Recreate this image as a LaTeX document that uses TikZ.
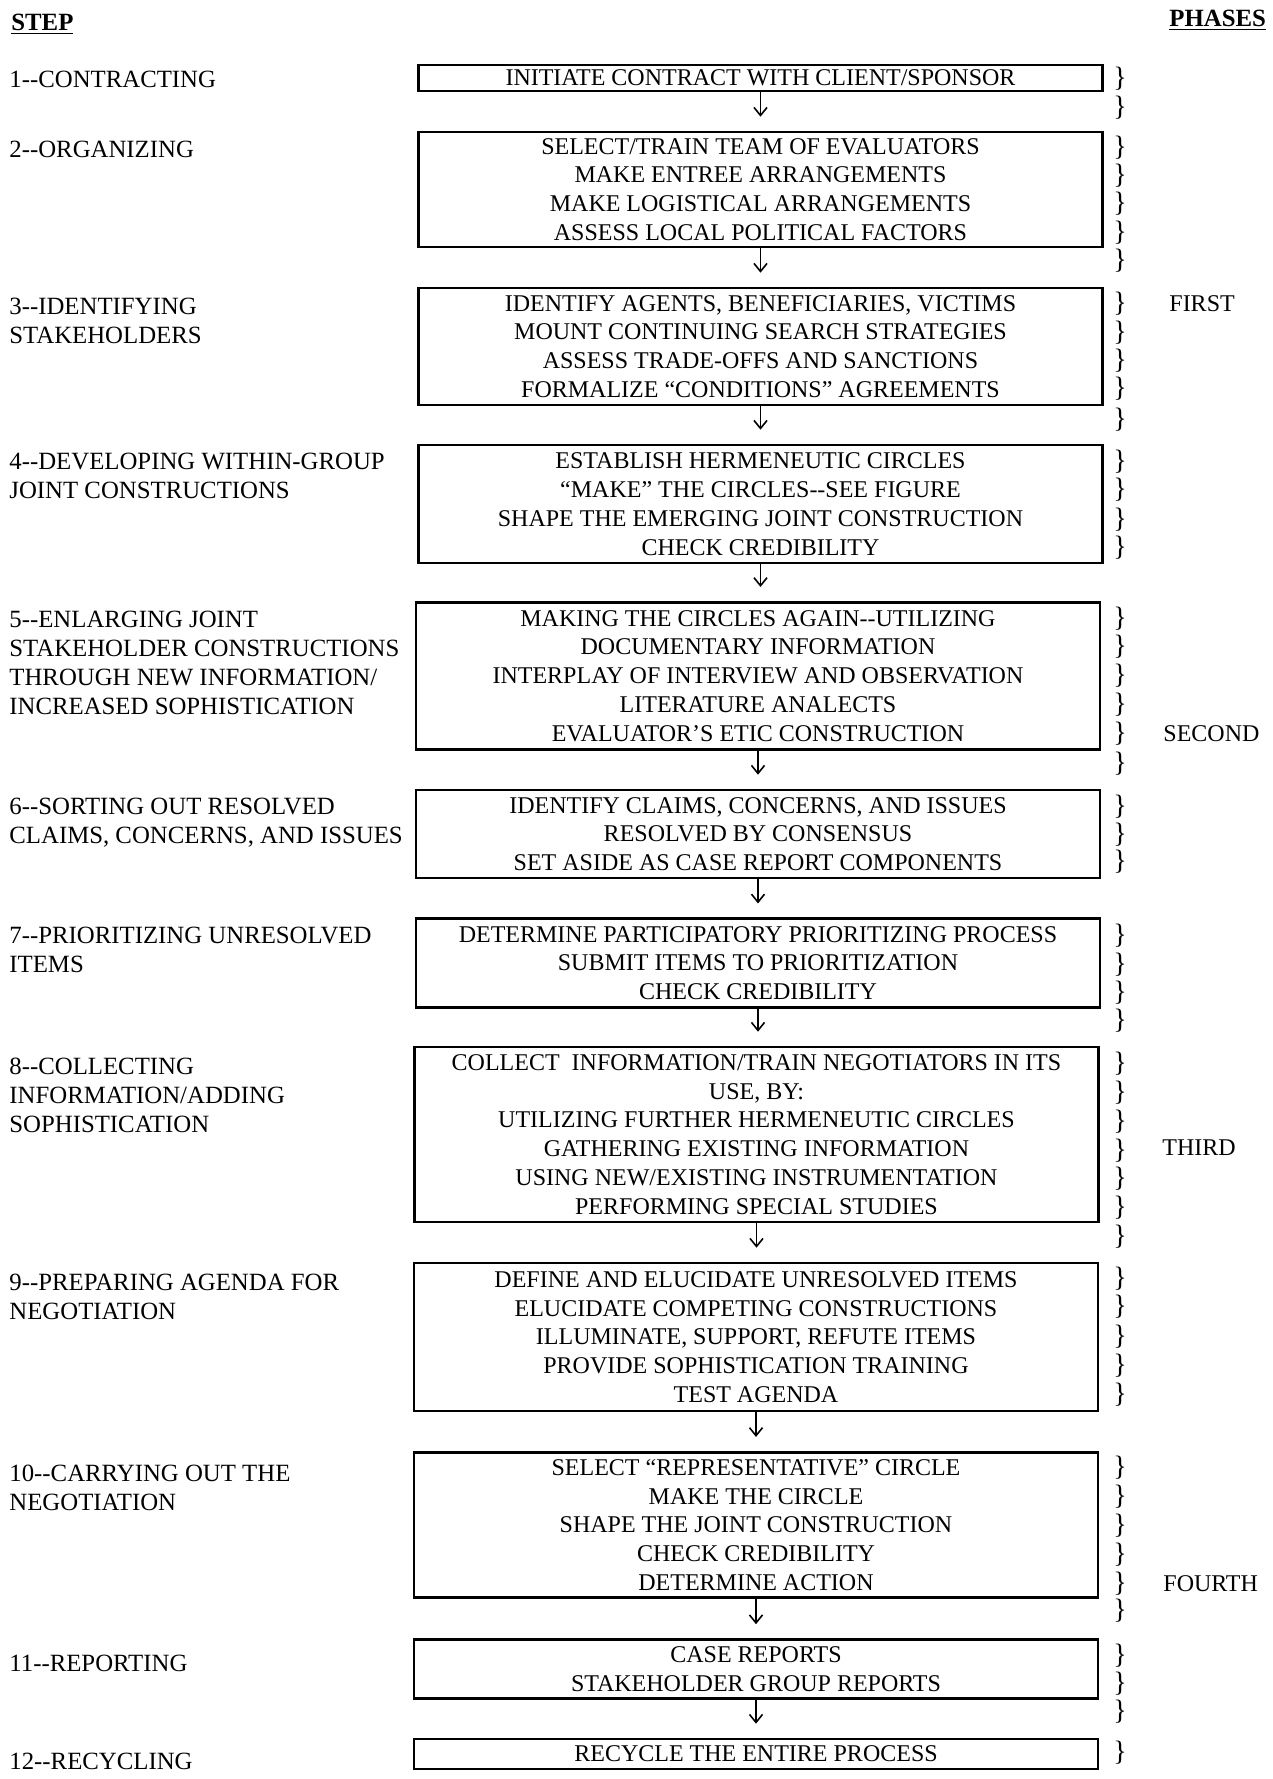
\documentclass[tikz,border=0pt]{standalone}
\usepackage{fontspec}
\setmainfont{Liberation Serif}
\usepackage{graphicx}
\usetikzlibrary{arrows.meta}

\begin{document}
\begin{tikzpicture}[x=0.5pt,y=-0.5pt,
  stepbox/.style={draw, line width=1.3pt, inner sep=0pt, align=center,
    minimum width=342pt, font=\fontsize{12}{14.4}\selectfont},
  flow/.style={line width=0.8pt,
    -{Straight Barb[length=4pt,width=6.5pt,line width=0.8pt]}, shorten >=7pt},
  steplabel/.style={anchor=north west, align=left, inner sep=0pt,
    font=\fontsize{12.4}{14.4}\selectfont},
  brace/.style={inner sep=0pt, font=\fontsize{14}{14}\selectfont},
  phase/.style={anchor=west, inner sep=0pt, font=\fontsize{12}{14}\selectfont},
  header/.style={anchor=west, inner sep=0pt, font=\bfseries\fontsize{12.4}{14}\selectfont}
]
\fill[white] (0,0) rectangle (1273,1779);
\useasboundingbox (0,0) rectangle (1273,1779);

% column headers
\node[header] (hstep) at (11,24) {\underline{STEP}};
\node[header] (hphase) at (1169,20) {\underline{PHASES}};

% process boxes
\node[stepbox, minimum height=13pt] (b1) at (760.5,78)
  {INITIATE CONTRACT WITH CLIENT/SPONSOR};
\node[stepbox, minimum height=57.5pt] (b2) at (760.5,189.5)
  {SELECT/TRAIN TEAM OF EVALUATORS\\MAKE ENTREE ARRANGEMENTS\\MAKE LOGISTICAL ARRANGEMENTS\\ASSESS LOCAL POLITICAL FACTORS};
\node[stepbox, minimum height=58.5pt] (b3) at (760.5,346.5)
  {IDENTIFY AGENTS, BENEFICIARIES, VICTIMS\\MOUNT CONTINUING SEARCH STRATEGIES\\ASSESS TRADE-OFFS AND SANCTIONS\\FORMALIZE ``CONDITIONS'' AGREEMENTS};
\node[stepbox, minimum height=59pt] (b4) at (760.5,504)
  {ESTABLISH HERMENEUTIC CIRCLES\\``MAKE'' THE CIRCLES-{}-SEE FIGURE\\SHAPE THE EMERGING JOINT CONSTRUCTION\\CHECK CREDIBILITY};
\node[stepbox, minimum height=73.75pt] (b5) at (758,676)
  {MAKING THE CIRCLES AGAIN-{}-UTILIZING\\DOCUMENTARY INFORMATION\\INTERPLAY OF INTERVIEW AND OBSERVATION\\LITERATURE ANALECTS\\EVALUATOR'S ETIC CONSTRUCTION};
\node[stepbox, minimum height=44pt] (b6) at (758,834)
  {IDENTIFY CLAIMS, CONCERNS, AND ISSUES\\RESOLVED BY CONSENSUS\\SET ASIDE AS CASE REPORT COMPONENTS};
\node[stepbox, minimum height=44.25pt] (b7) at (758,963)
  {DETERMINE PARTICIPATORY PRIORITIZING PROCESS\\SUBMIT ITEMS TO PRIORITIZATION\\CHECK CREDIBILITY};
\node[stepbox, minimum height=87.5pt] (b8) at (756.5,1134.5)
  {COLLECT\ \ INFORMATION/TRAIN NEGOTIATORS IN ITS\\USE, BY:\\UTILIZING FURTHER HERMENEUTIC CIRCLES\\GATHERING EXISTING INFORMATION\\USING NEW/EXISTING INSTRUMENTATION\\PERFORMING SPECIAL STUDIES};
\node[stepbox, minimum height=74pt] (b9) at (756,1337)
  {DEFINE AND ELUCIDATE UNRESOLVED ITEMS\\ELUCIDATE COMPETING CONSTRUCTIONS\\ILLUMINATE, SUPPORT, REFUTE ITEMS\\PROVIDE SOPHISTICATION TRAINING\\TEST AGENDA};
\node[stepbox, minimum height=72.75pt] (b10) at (756,1525)
  {SELECT ``REPRESENTATIVE'' CIRCLE\\MAKE THE CIRCLE\\SHAPE THE JOINT CONSTRUCTION\\CHECK CREDIBILITY\\DETERMINE ACTION};
\node[stepbox, minimum height=29.5pt] (b11) at (756,1669)
  {CASE REPORTS\\STAKEHOLDER GROUP REPORTS};
\node[stepbox, minimum height=15pt] (b12) at (756,1754)
  {RECYCLE THE ENTIRE PROCESS};

% connectors between consecutive boxes
\foreach \a/\b in {b1/b2,b2/b3,b3/b4,b4/b5,b5/b6,b6/b7,b7/b8,b8/b9,b9/b10,b10/b11,b11/b12}
  \draw[flow] (\a.south) -- (\a.south |- \b.north);

% step labels
\node[steplabel] (s1) at (9,71) {1-{}-CONTRACTING};
\node[steplabel] (s2) at (9,141) {2-{}-ORGANIZING};
\node[steplabel] (s3) at (9,298) {3-{}-IDENTIFYING\\STAKEHOLDERS};
\node[steplabel] (s4) at (9,453) {4-{}-DEVELOPING WITHIN-GROUP\\JOINT CONSTRUCTIONS};
\node[steplabel] (s5) at (9,611) {5-{}-ENLARGING JOINT\\STAKEHOLDER CONSTRUCTIONS\\THROUGH NEW INFORMATION/\\INCREASED SOPHISTICATION};
\node[steplabel] (s6) at (9,798) {6-{}-SORTING OUT RESOLVED\\CLAIMS, CONCERNS, AND ISSUES};
\node[steplabel] (s7) at (9,927) {7-{}-PRIORITIZING UNRESOLVED\\ITEMS};
\node[steplabel] (s8) at (9,1058) {8-{}-COLLECTING\\INFORMATION/ADDING\\SOPHISTICATION};
\node[steplabel] (s9) at (9,1274) {9-{}-PREPARING AGENDA FOR\\NEGOTIATION};
\node[steplabel] (s10) at (9,1465) {10-{}-CARRYING OUT THE\\NEGOTIATION};
\node[steplabel] (s11) at (9,1655) {11-{}-REPORTING};
\node[steplabel] (s12) at (9,1753) {12-{}-RECYCLING};

% column of phase braces
\foreach \y [count=\i] in {79,108,
    147.5,176,204,232.5,261,
    304,332.5,361,389,420,
    462,490,519.5,548,
    618.5,647,676,704.5,734,763.5,
    806.5,835,862,
    936,964.5,993,1021,
    1064,1092.5,1122,1150.5,1179,1208,1236.5,
    1279,1307,1336.5,1366,1394.5,
    1468,1496.5,1526,1554.5,1584,1611,
    1655.5,1684,1712,
    1753}
  \node[brace] (br\i) at (1120,\y) {\}};

% phase names
\node[phase] (p1) at (1169,304) {FIRST};
\node[phase] (p2) at (1163,734) {SECOND};
\node[phase] (p3) at (1162,1148) {THIRD};
\node[phase] (p4) at (1163,1584) {FOURTH};
\end{tikzpicture}
\end{document}
